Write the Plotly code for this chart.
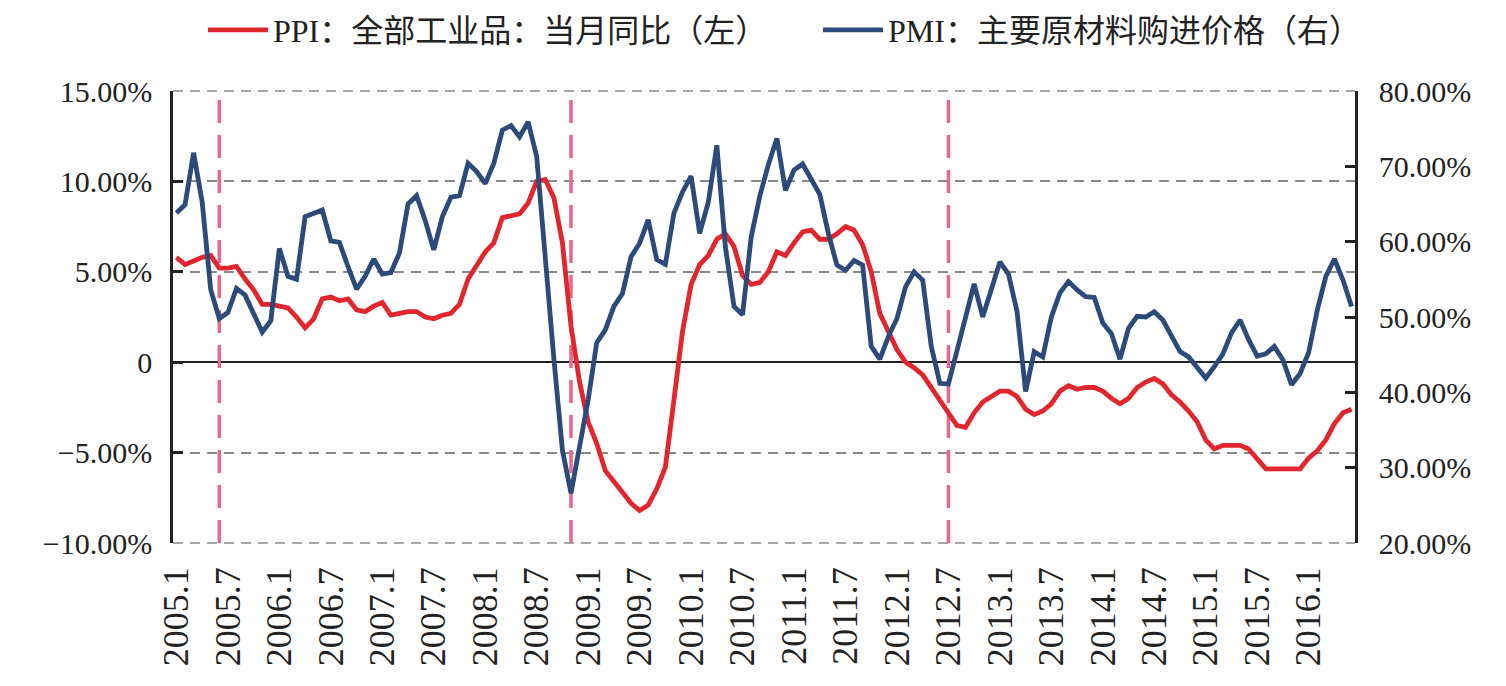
import plotly.graph_objects as go

# ---- data ----
months = [f"{y}.{m}" for y in range(2005, 2017) for m in range(1, 13)][:138]

ppi = [5.8, 5.4, 5.6, 5.8, 5.9, 5.2, 5.2, 5.3, 4.6, 4.0, 3.2, 3.2,
       3.1, 3.0, 2.5, 1.9, 2.4, 3.5, 3.6, 3.4, 3.5, 2.9, 2.8, 3.1,
       3.3, 2.6, 2.7, 2.8, 2.8, 2.5, 2.4, 2.6, 2.7, 3.2, 4.6, 5.4,
       6.1, 6.6, 8.0, 8.1, 8.2, 8.8, 10.0, 10.1, 9.1, 6.6, 2.0, -1.1,
       -3.3, -4.5, -6.0, -6.6, -7.2, -7.8, -8.2, -7.9, -7.0, -5.8, -2.1, 1.7,
       4.3, 5.4, 5.9, 6.8, 7.1, 6.4, 4.8, 4.3, 4.4, 5.0, 6.1, 5.9,
       6.6, 7.2, 7.3, 6.8, 6.8, 7.1, 7.5, 7.3, 6.5, 5.0, 2.7, 1.7,
       0.7, 0.0, -0.3, -0.7, -1.4, -2.1, -2.9, -3.5, -3.6, -2.8, -2.2, -1.9,
       -1.6, -1.6, -1.9, -2.6, -2.9, -2.7, -2.3, -1.6, -1.3, -1.5, -1.4, -1.4,
       -1.6, -2.0, -2.3, -2.0, -1.4, -1.1, -0.9, -1.2, -1.8, -2.2, -2.7, -3.3,
       -4.3, -4.8, -4.6, -4.6, -4.6, -4.8, -5.4, -5.9, -5.9, -5.9, -5.9, -5.9,
       -5.3, -4.9, -4.3, -3.4, -2.8, -2.6]

pmi = [63.8, 64.9, 71.8, 65.3, 53.6, 49.8, 50.6, 53.8, 52.9, 50.5, 48.0, 49.5,
       59.1, 55.4, 55.0, 63.3, 63.7, 64.2, 60.1, 59.9, 56.7, 53.7, 55.4, 57.7,
       55.7, 55.9, 58.5, 65.0, 66.1, 62.8, 58.9, 63.3, 65.9, 66.1, 70.4, 69.3,
       67.7, 70.4, 74.8, 75.4, 73.9, 75.9, 71.3, 57.6, 44.5, 32.3, 26.6, 32.8,
       39.0, 46.6, 48.3, 51.4, 53.1, 58.0, 59.8, 62.9, 57.6, 57.0, 63.8, 66.6,
       68.7, 61.1, 65.2, 72.8, 59.3, 51.4, 50.3, 60.6, 66.0, 70.2, 73.7, 66.8,
       69.5, 70.3, 68.2, 66.3, 61.1, 56.9, 56.2, 57.5, 56.9, 46.1, 44.4, 47.4,
       49.8, 54.0, 56.0, 54.9, 46.1, 41.2, 41.1, 45.6, 50.0, 54.4, 50.0, 53.4,
       57.3, 55.7, 50.7, 40.1, 45.4, 44.7, 50.0, 53.2, 54.7, 53.6, 52.7, 52.6,
       49.2, 47.8, 44.4, 48.5, 50.1, 50.0, 50.7, 49.6, 47.5, 45.4, 44.7, 43.4,
       41.9, 43.4, 45.1, 47.9, 49.6, 47.0, 44.8, 45.1, 46.1, 44.3, 41.0, 42.5,
       45.3, 50.9, 55.4, 57.7, 54.9, 51.4]

tick_months = months[::6]
left_ticks = [15, 10, 5, 0, -5, -10]
left_tick_text = ["15.00%", "10.00%", "5.00%", "0", "−5.00%", "−10.00%"]
right_ticks = [80, 70, 60, 50, 40, 30, 20]
right_tick_text = ["80.00%", "70.00%", "60.00%", "50.00%", "40.00%", "30.00%", "20.00%"]
event_months = ["2005.6", "2008.11", "2012.7"]

name_ppi = "PPI：全部工业品：当月同比（左）"
name_pmi = "PMI：主要原材料购进价格（右）"

RED = "#E3262D"
BLUE = "#2C4A7C"
PINK = "#E6688C"
DARK = "#222222"
GRID = "#8a8a8a"
FONT = "Liberation Serif, Noto Sans CJK SC, serif"

fig = go.Figure()
fig.add_trace(go.Scatter(x=months, y=ppi, name=name_ppi, mode="lines",
                         line=dict(color=RED, width=4.8), yaxis="y", legend="legend"))
fig.add_trace(go.Scatter(x=months, y=pmi, name=name_pmi, mode="lines",
                         line=dict(color=BLUE, width=4.8), yaxis="y2", legend="legend2"))

for m in event_months:
    pos = months.index(m)
    fig.add_shape(type="line", xref="x", yref="y", x0=pos, x1=pos,
                  y0=min(left_ticks), y1=max(left_ticks),
                  line=dict(color=PINK, width=3.5, dash="23px,12px"), layer="between")

# dashed grid lines at the top and bottom edges of the plot area
for yp in (0, 1):
    fig.add_shape(type="line", xref="paper", yref="paper", x0=0, x1=1, y0=yp, y1=yp,
                  line=dict(color=GRID, width=1.5, dash="10px,7px"), layer="above")

tickfont = dict(family=FONT, size=30, color=DARK)
legfont = dict(family=FONT, size=32, color=DARK)
leg_common = dict(orientation="h", xref="container", yref="container",
                  xanchor="left", yanchor="middle", y=1 - 30 / 686,
                  font=legfont, itemwidth=60, bgcolor="rgba(0,0,0,0)")

fig.update_layout(
    width=1506, height=686,
    margin=dict(l=173, r=151, t=91, b=143, autoexpand=False),
    paper_bgcolor="white", plot_bgcolor="white",
    font=dict(family=FONT, color=DARK),
    showlegend=True,
    legend=dict(x=203 / 1506, **leg_common),
    legend2=dict(x=818 / 1506, **leg_common),
    xaxis=dict(type="category", range=[-0.4, 137.4],
               tickvals=tick_months, ticktext=tick_months, tickangle=-90,
               showgrid=False, showline=False, zeroline=False, ticks="",
               tickfont=dict(family=FONT, size=36, color=DARK),
               ticklabelstandoff=16),
    yaxis=dict(range=[min(left_ticks), max(left_ticks)],
               tickvals=left_ticks, ticktext=left_tick_text,
               showgrid=True, gridcolor=GRID, gridwidth=1.5, griddash="10px,7px",
               zeroline=True, zerolinecolor=DARK, zerolinewidth=2,
               showline=True, linecolor=DARK, linewidth=2.5,
               ticks="inside", ticklen=10, tickwidth=2.5, tickcolor=DARK,
               tickfont=tickfont, ticklabelstandoff=12),
    yaxis2=dict(range=[min(right_ticks), max(right_ticks)],
                overlaying="y", side="right",
                tickvals=right_ticks, ticktext=right_tick_text,
                showgrid=False, zeroline=False,
                showline=True, linecolor=DARK, linewidth=2.5,
                ticks="inside", ticklen=10, tickwidth=2.5, tickcolor=DARK,
                tickfont=tickfont, ticklabelstandoff=15),
)

fig.write_html("out.html")
